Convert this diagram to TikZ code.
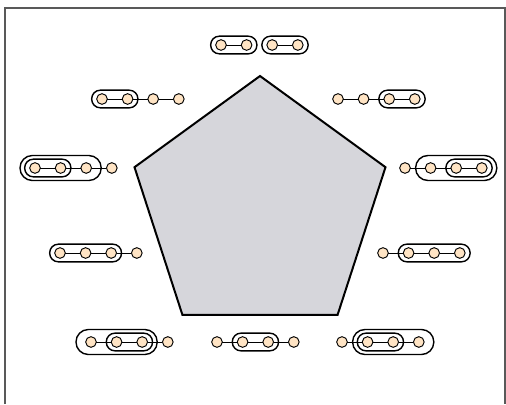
\documentclass[tikz,border=0pt]{standalone}
\usepackage{tikz}
\usetikzlibrary{positioning,fit,calc}
\usepackage{xcolor}
\definecolor{vfill}{HTML}{FFE4C4}
\definecolor{pfill}{HTML}{D6D6DB}

\tikzset{
    vtx/.style={circle, draw, fill=vfill, line width=0.8pt, minimum size=3.2mm, inner sep=0pt, outer sep=0pt},
    pill/.style={draw, line width=1.2pt, rounded corners=2.6mm, inner xsep=1.5mm, inner ysep=1.05mm},
    bigpill/.style={draw, line width=1.2pt, rounded corners=3.7mm, inner xsep=2.9mm, inner ysep=2.15mm},
}

\begin{document}
\begin{tikzpicture}[x=0.3mm, y=-0.3mm]
    \useasboundingbox (0,0) rectangle (506,404);
    \draw[line width=1.2pt, black!65] (5,404) -- (5,8) -- (505,8) -- (505,404);

    % pentagon
    \draw[line width=1.7pt, fill=pfill] (260,76) -- (385.5,167.2) -- (337.6,314.8)
        -- (182.4,314.8) -- (134.5,167.2) -- cycle;

    % vertices
    \foreach \n/\x/\y in {t/221/45, ul/102/99, ur/338/99, ml/35/168, mr/405/168,
                          ll/60/253, lr/383/253, bl/91/342, bc/217/342, br/342/342}
        \foreach \i in {1,...,4}
            \node[vtx] (\n\i) at ({\x+25.6*(\i-1)},\y) {};

    % edges
    \draw[line width=0.8pt] (t1) -- (t2) (t3) -- (t4);
    \foreach \n in {ul,ur,ml,mr,ll,lr,bl,bc,br}
        \draw[line width=0.8pt] (\n1) -- (\n2) -- (\n3) -- (\n4);

    % groups
    \node[pill, fit=(t1)(t2)] (g1) {};
    \node[pill, fit=(t3)(t4)] (g2) {};
    \node[pill, fit=(ul1)(ul2)] (g3) {};
    \node[pill, fit=(ur3)(ur4)] (g4) {};
    \node[pill, fit=(ml1)(ml2)] (g5) {};
    \node[bigpill, fit=(ml1)(ml3)] (g6) {};
    \node[pill, fit=(mr3)(mr4)] (g7) {};
    \node[bigpill, fit=(mr2)(mr4)] (g8) {};
    \node[pill, fit=(ll1)(ll3)] (g9) {};
    \node[pill, fit=(lr2)(lr4)] (g10) {};
    \node[pill, fit=(bl2)(bl3)] (g11) {};
    \node[bigpill, fit=(bl1)(bl3)] (g12) {};
    \node[pill, fit=(bc2)(bc3)] (g13) {};
    \node[pill, fit=(br2)(br3)] (g14) {};
    \node[bigpill, fit=(br2)(br4)] (g15) {};
\end{tikzpicture}
\end{document}
